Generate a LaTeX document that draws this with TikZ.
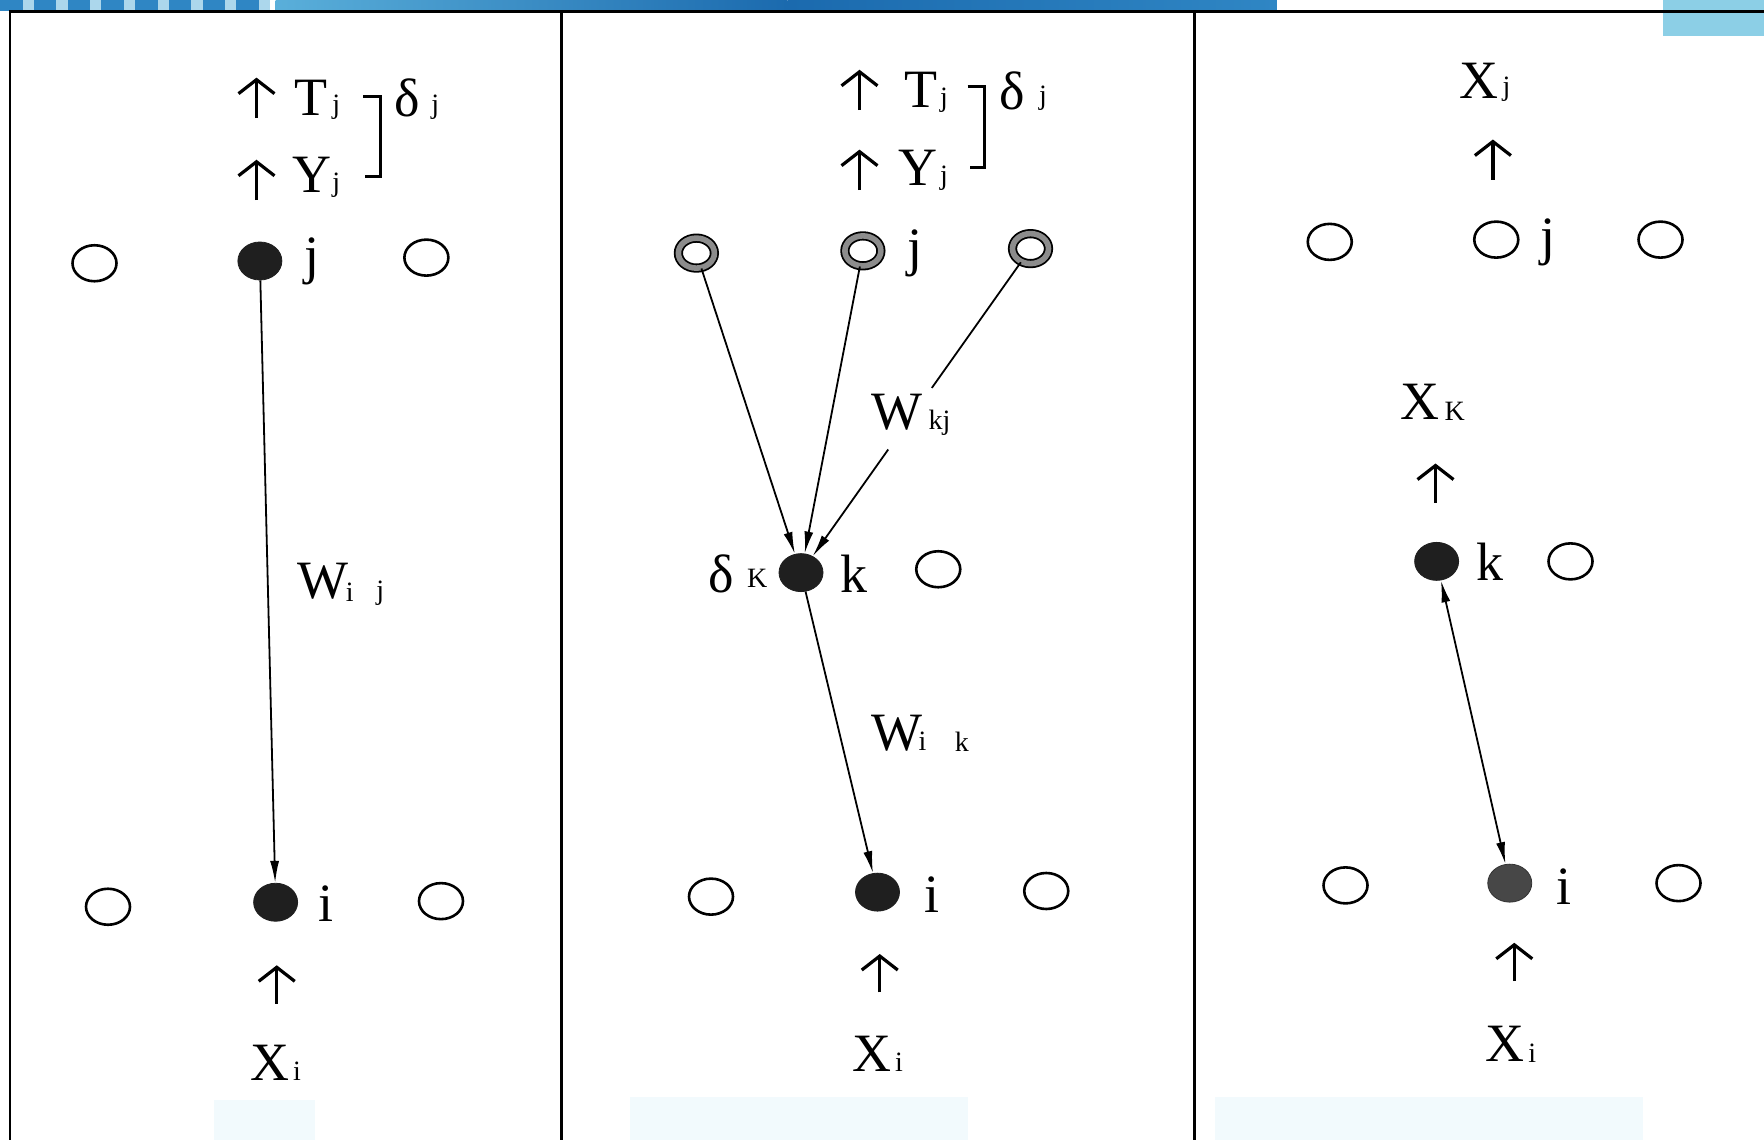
\documentclass[tikz,border=0pt]{standalone}
\usepackage{fontspec}
\setmainfont{Liberation Serif}
\usetikzlibrary{shapes.geometric,arrows.meta,calc}
\definecolor{bannerA}{HTML}{5AAFDA}
\definecolor{bannerB}{HTML}{1B6AAE}
\definecolor{bannerC}{HTML}{2F86C4}
\definecolor{corner}{HTML}{8CCFE6}
\definecolor{faint}{HTML}{F2FAFD}
\begin{document}
\begin{tikzpicture}[x=0.5625pt,y=-0.5625pt,
  hollow/.style={ellipse,draw,line width=1.3pt,minimum width=22pt,minimum height=18pt,inner sep=0pt},
  solidnode/.style={ellipse,fill=black!88,draw=black!88,minimum width=22pt,minimum height=19pt,inner sep=0pt},
  graynode/.style={ellipse,fill=black!72,draw=black!80,minimum width=22pt,minimum height=19pt,inner sep=0pt},
  ringnode/.style={ellipse,draw,line width=0.9pt,double=black!45,double distance=2.8pt,minimum width=18pt,minimum height=15pt,inner sep=0pt},
  lbl/.style={font=\fontsize{27}{30}\selectfont,inner sep=0pt},
  sublbl/.style={font=\fontsize{14}{16}\selectfont,inner sep=0pt},
  uparr/.style={line width=1.6pt,-{Straight Barb[length=7pt,width=18pt,line width=1.6pt]}},
  conn/.style={line width=0.9pt,-{Latex[length=11pt,width=4.5pt]}},
  plain/.style={line width=0.9pt},
  frame/.style={line width=1.3pt},
  brk/.style={line width=1.5pt}]
\useasboundingbox (0,0) rectangle (1568,1013);
\fill[white] (0,0) rectangle (1568,1013);
% banner and decorations
\shade[left color=bannerA,right color=bannerB] (245,0) rectangle (700,10);
\shade[left color=bannerB,right color=bannerC] (700,0) rectangle (1135,10);
\foreach \xx in {0,30,60,90,120,150,180,210}
  \fill[bannerC] (\xx,0) rectangle (\xx+20,10);
\foreach \xx in {20,50,80,110,140,170,200,230}
  \fill[bannerA!50] (\xx,0) rectangle (\xx+10,10);
\fill[corner] (1478,0) rectangle (1568,32);
\fill[faint] (190,978) rectangle (280,1013);
\fill[faint] (560,975) rectangle (860,1013);
\fill[faint] (1080,975) rectangle (1460,1013);
% frame
\draw[frame] (9,1013) -- (9,10) -- (1568,10);
\draw[frame] (499,10) -- (499,1013);
\draw[frame] (1062,10) -- (1062,1013);

% ---------------- Panel 1 ----------------
\node[hollow] (a1) at (84,234) {};
\node[solidnode] (j1) at (231,232) {};
\node[hollow] (a2) at (379,229) {};
\node[lbl] (j1l) at (277,232) {j};
\node[hollow] (a3) at (96,806) {};
\node[solidnode] (i1) at (245,802) {};
\node[hollow] (a4) at (392,801) {};
\node[lbl] (i1l) at (290,803) {i};
\draw[conn] (j1) -- (i1);
\node[lbl] (w1) at (287,517) {W};
\node[sublbl] (w1a) at (311,526) {i};
\node[sublbl] (w1b) at (338,527) {j};
% top labels
\draw[uparr] (228,105) -- (228,69);
\node[lbl] (t1) at (276,87) {T};
\node[sublbl] (t1s) at (299,95) {j};
\draw[uparr] (228,178) -- (228,142);
\node[lbl] (y1) at (277,155) {Y};
\node[sublbl] (y1s) at (299,165) {j};
\draw[brk] (323,86) -- (338,86) -- (338,157) -- (324,157);
\node[lbl] (d1) at (362,87) {δ};
\node[sublbl] (d1s) at (387,95) {j};
% bottom
\draw[uparr] (246,892) -- (246,858);
\node[lbl] (x1) at (240,945) {X};
\node[sublbl] (x1s) at (264,952) {i};

% ---------------- Panel 2 ----------------
\node[ringnode] (r1) at (619,225) {};
\node[ringnode] (r2) at (767,223) {};
\node[ringnode] (r3) at (916,221) {};
\node[lbl] (j2l) at (813,225) {j};
\node[solidnode] (k2) at (712,509) {};
\node[lbl] (k2l) at (759,510) {k};
\node[lbl] (dk) at (641,510) {δ};
\node[sublbl] (dks) at (673,514) {K};
\node[hollow] (b1) at (834,506) {};
\node[hollow] (b2) at (632,797) {};
\node[solidnode] (i2) at (780,793) {};
\node[lbl] (i2l) at (828,795) {i};
\node[hollow] (b3) at (930,792) {};
\draw[conn] (r1) -- (k2);
\draw[conn] (r2) -- (k2);
\coordinate (g1) at ($(r3)!0.43!(k2)$);
\coordinate (g2) at ($(r3)!0.62!(k2)$);
\draw[plain] (r3) -- (g1);
\draw[conn] (g2) -- (k2);
\node[lbl] (w2) at (797,366) {W};
\node[sublbl] (w2s) at (835,376) {kj};
\draw[conn] (k2) -- (i2);
\node[lbl] (w3) at (797,652) {W};
\node[sublbl] (w3a) at (820,659) {i};
\node[sublbl] (w3b) at (855,659) {k};
% top labels
\draw[uparr] (764,98) -- (764,62);
\node[lbl] (t2) at (819,80) {T};
\node[sublbl] (t2s) at (839,89) {j};
\draw[uparr] (764,169) -- (764,133);
\node[lbl] (y2) at (816,149) {Y};
\node[sublbl] (y2s) at (839,158) {j};
\draw[brk] (860,77) -- (875,77) -- (875,149) -- (862,149);
\node[lbl] (d2) at (900,81) {δ};
\node[sublbl] (d2s) at (927,87) {j};
% bottom
\draw[uparr] (782,882) -- (782,848);
\node[lbl] (x2) at (775,937) {X};
\node[sublbl] (x2s) at (799,944) {i};

% ---------------- Panel 3 ----------------
\node[lbl] (x3) at (1315,72) {X};
\node[sublbl] (x3s) at (1339,79) {j};
\draw[uparr] (1327,160) -- (1327,124);
\node[hollow] (c1) at (1182,215) {};
\node[hollow] (c2) at (1330,213) {};
\node[lbl] (j3l) at (1376,215) {j};
\node[hollow] (c3) at (1476,213) {};
\node[lbl] (xk) at (1262,357) {X};
\node[sublbl] (xks) at (1293,366) {K};
\draw[uparr] (1276,447) -- (1276,412);
\node[solidnode] (k3) at (1277,499) {};
\node[lbl] (k3l) at (1324,499) {k};
\node[hollow] (c4) at (1396,499) {};
\node[hollow] (c5) at (1196,787) {};
\node[graynode] (i3) at (1342,785) {};
\node[lbl] (i3l) at (1390,788) {i};
\node[hollow] (c6) at (1492,785) {};
\draw[line width=0.9pt,{Latex[length=11pt,width=4.5pt]}-{Latex[length=11pt,width=4.5pt]}] (k3) -- (i3);
\draw[uparr] (1346,872) -- (1346,838);
\node[lbl] (x4) at (1338,928) {X};
\node[sublbl] (x4s) at (1362,936) {i};
\end{tikzpicture}
\end{document}
